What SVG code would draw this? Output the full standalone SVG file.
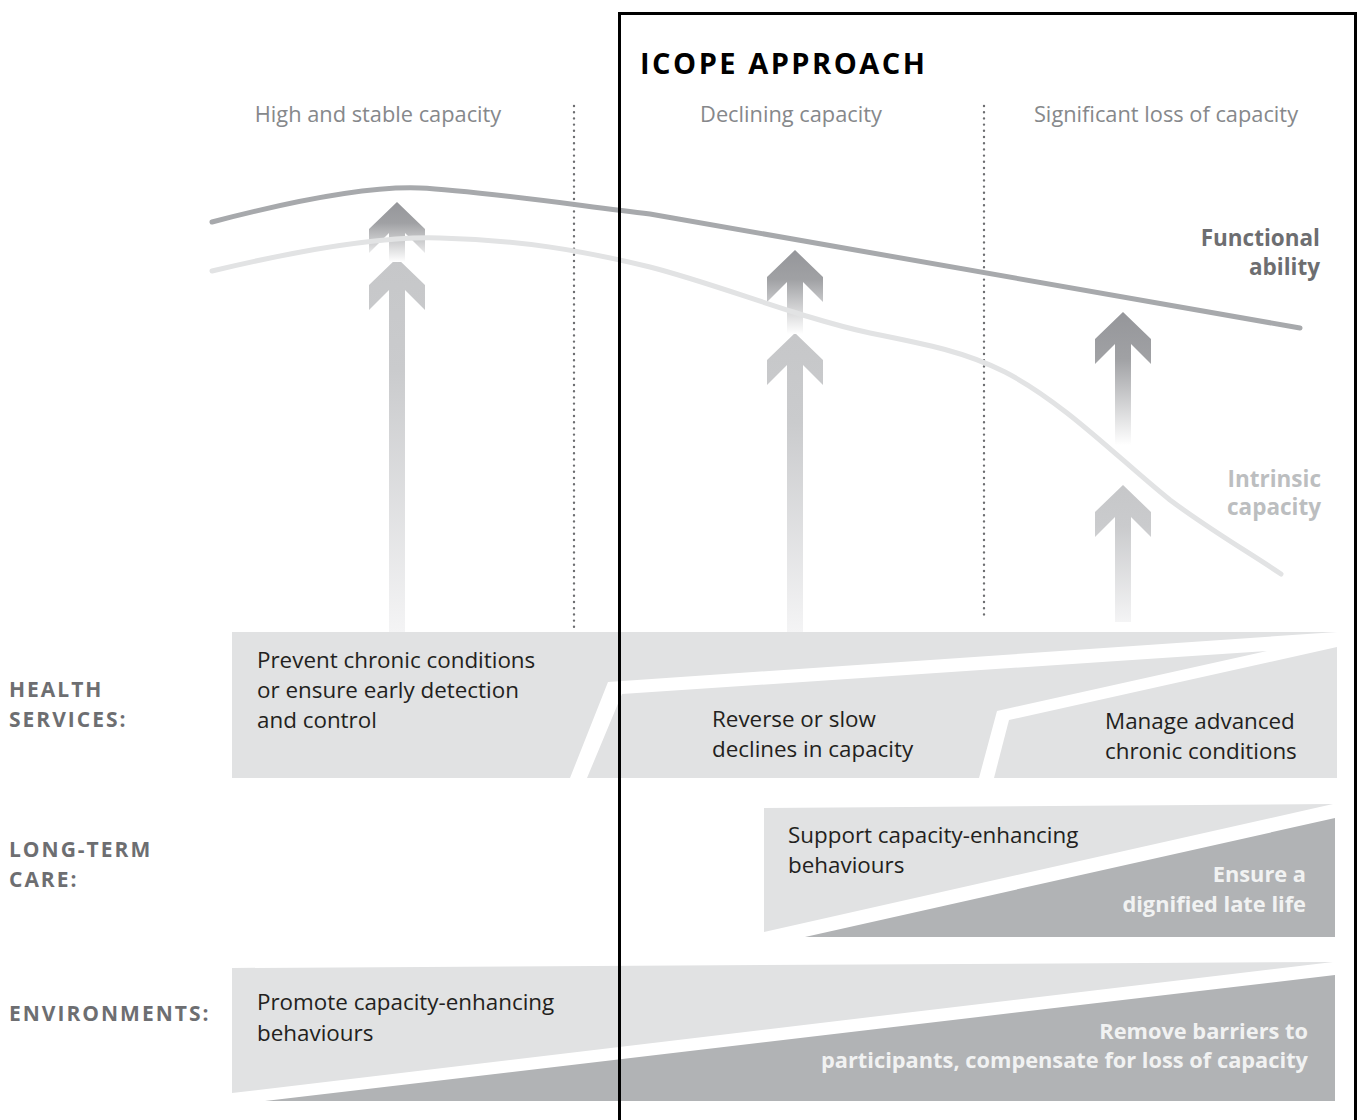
<svg xmlns="http://www.w3.org/2000/svg" width="1359" height="1120" viewBox="0 0 1359 1120">
<style>
text{font-family:"Open Sans","Liberation Sans",sans-serif}
.hdr{font-size:21.8px;fill:#86888b;text-anchor:middle}
.body{font-size:22.4px;fill:#231f20}
.side{font-size:21px;font-weight:700;fill:#6d6e71;letter-spacing:2px}
.inv{font-size:21.8px;font-weight:700;fill:#f1f2f2;text-anchor:end}
.light{fill:#e1e2e3}
.dark{fill:#b1b3b5}
.dots{stroke:#6d6e71;stroke-width:2.4;stroke-linecap:round;stroke-dasharray:0 6.2;fill:none}
</style>
<defs>
<linearGradient id="gUp" x1="0" y1="0" x2="0" y2="1">
<stop offset="0" stop-color="#95969a"/><stop offset="0.35" stop-color="#a0a1a4"/><stop offset="1" stop-color="#ffffff"/>
</linearGradient>
<linearGradient id="gLow" x1="0" y1="0" x2="0" y2="1">
<stop offset="0" stop-color="#c6c7c9"/><stop offset="0.3" stop-color="#cacbcd"/><stop offset="1" stop-color="#f4f4f5"/>
</linearGradient>
</defs>
<rect width="1359" height="1120" fill="#ffffff"/>

<g id="column-headers">
<text class="hdr" x="378" y="122">High and stable capacity</text>
<text class="hdr" x="791" y="122">Declining capacity</text>
<text class="hdr" x="1166" y="122">Significant loss of capacity</text>
</g>

<g id="dividers">
<line class="dots" x1="574" y1="106" x2="574" y2="632"/>
<line class="dots" x1="984" y1="106" x2="984" y2="615"/>
</g>

<g id="arrows">
<g id="arrow-1">
<polygon fill="url(#gLow)" points="397,258 425,285 425,310 405,290 405,632 389,632 389,290 369,310 369,285"/>
<polygon fill="url(#gUp)" points="397,202 425,229 425,253 405,233 405,262 389,262 389,233 369,253 369,229"/>
</g>
<g id="arrow-2">
<polygon fill="url(#gLow)" points="795,333 823,360 823,385 803,365 803,632 787,632 787,365 767,385 767,360"/>
<polygon fill="url(#gUp)" points="795,250 823,277 823,302 803,282 803,334 787,334 787,282 767,302 767,277"/>
</g>
<g id="arrow-3">
<polygon fill="url(#gLow)" points="1123,485 1151,512 1151,537 1131,517 1131,622 1115,622 1115,517 1095,537 1095,512"/>
<polygon fill="url(#gUp)" points="1123,312 1151,339 1151,364 1131,344 1131,445 1115,445 1115,344 1095,364 1095,339"/>
</g>
</g>

<g id="curves" fill="none" stroke-linecap="round" stroke-width="5">
<path id="intrinsic-capacity-curve" stroke="#e2e3e4" d="M212,271 C300,250 380,236 440,238 C520,240 580,250 650,267 C720,285 800,318 870,333 C930,345 965,352 1005,372 C1065,403 1120,460 1170,500 C1210,530 1250,553 1281,574"/>
<path id="functional-ability-curve" stroke="#a7a9ac" d="M212,222 C300,199 370,186 420,188 C470,190 560,203 650,214 L1300,328"/>
</g>

<g id="curve-labels" font-weight="700" font-size="22.5" text-anchor="end">
<text x="1320" y="246" fill="#6d6e71">Functional</text>
<text x="1320" y="275" fill="#6d6e71">ability</text>
<text x="1321" y="487" fill="#bcbec0">Intrinsic</text>
<text x="1321" y="515" fill="#bcbec0">capacity</text>
</g>

<g id="health-services">
<polygon class="light" points="232,632 1337,632 608,682 570,778 232,778"/>
<polygon class="light" points="587,778 622,694 1267,651 997,711 979,778"/>
<polygon class="light" points="1337,647 1337,778 994,778 1009,720"/>
<text class="body" x="257" y="668">Prevent chronic conditions</text>
<text class="body" x="257" y="698">or ensure early detection</text>
<text class="body" x="257" y="728">and control</text>
<text class="body" x="712" y="727">Reverse or slow</text>
<text class="body" x="712" y="757">declines in capacity</text>
<text class="body" x="1105" y="729">Manage advanced</text>
<text class="body" x="1105" y="759">chronic conditions</text>
</g>

<g id="long-term-care">
<polygon class="light" points="764,808 1333,804 764,932"/>
<polygon class="dark" points="805,937 1335,818 1335,937"/>
<text class="body" x="788" y="843">Support capacity-enhancing</text>
<text class="body" x="788" y="873">behaviours</text>
<text class="inv" x="1306" y="882">Ensure a</text>
<text class="inv" x="1306" y="912">dignified late life</text>
</g>

<g id="environments">
<polygon class="light" points="232,968 1333,962 232,1093"/>
<polygon class="dark" points="265,1101 1335,975 1335,1101"/>
<text class="body" x="257" y="1010">Promote capacity-enhancing</text>
<text class="body" x="257" y="1041">behaviours</text>
<text class="inv" x="1308" y="1039">Remove barriers to</text>
<text class="inv" x="1308" y="1068">participants, compensate for loss of capacity</text>
</g>

<g id="row-labels">
<text class="side" x="9" y="697">HEALTH</text>
<text class="side" x="9" y="727">SERVICES:</text>
<text class="side" x="9" y="857">LONG-TERM</text>
<text class="side" x="9" y="887">CARE:</text>
<text class="side" x="9" y="1021">ENVIRONMENTS:</text>
</g>

<g id="icope-box">
<rect x="619.5" y="13.5" width="736" height="1120" fill="none" stroke="#000000" stroke-width="3"/>
<text x="640" y="74" font-size="29" font-weight="700" fill="#000000" letter-spacing="2.5">ICOPE APPROACH</text>
</g>
</svg>
